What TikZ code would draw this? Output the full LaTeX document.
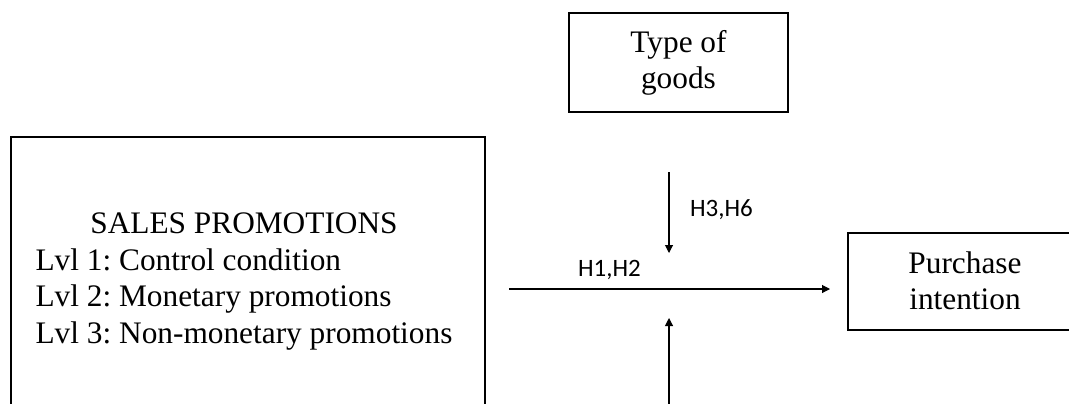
\documentclass[tikz,border=0pt]{standalone}
\usepackage{fontspec}
\setmainfont{Liberation Serif}
\newfontfamily\labelfont{Carlito}
\usetikzlibrary{arrows.meta}
\begin{document}
\frenchspacing
\begin{tikzpicture}[x=0.75pt,y=-0.75pt,
  box/.style={draw, line width=1.5pt, inner sep=0pt, align=center,
    font=\fontsize{23.5}{27}\selectfont},
  conn/.style={line width=0.8pt, -{Triangle[length=6pt,width=6pt]}},
  hlabel/.style={font=\labelfont\fontsize{18.75}{22}\selectfont, inner sep=0pt}]
\useasboundingbox (0,0) rectangle (1069,403);
\node[box, minimum width=355.5pt, minimum height=220.5pt, anchor=north west] (promo) at (10,136) {};
\node[font=\fontsize{23.5}{27.5}\selectfont, inner sep=0pt] (promotext) at (244,281)
  {\begin{tabular}{@{}l@{}}\multicolumn{1}{@{}c@{}}{SALES PROMOTIONS}\\Lvl 1: Control condition\\Lvl 2: Monetary promotions\\Lvl 3: Non-monetary promotions\end{tabular}};
\node[box, minimum width=164.25pt, minimum height=74.25pt] (goods) at (678.5,62.5) {Type of\\goods};
\node[box, minimum width=175.5pt, minimum height=72.75pt] (purchase) at (965,281) {Purchase\\intention};
\coordinate (hstart) at (509,289);
\coordinate (hend) at (830,289);
\coordinate (dstart) at (669,172);
\coordinate (dend) at (669,253);
\coordinate (ustart) at (669,410);
\coordinate (uend) at (669,318);
\draw[conn] (hstart) -- (hend);
\draw[conn] (dstart) -- (dend);
\draw[conn] (ustart) -- (uend);
\node[hlabel] (h12) at (609.5,270) {H1,H2};
\node[hlabel] (h36) at (721.5,210) {H3,H6};
\end{tikzpicture}
\end{document}
